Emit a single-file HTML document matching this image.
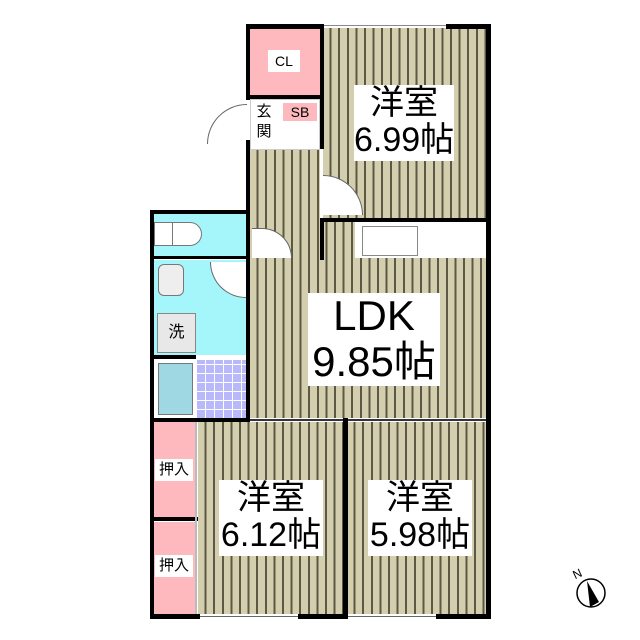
<!DOCTYPE html>
<html><head><meta charset="utf-8"><style>
body{margin:0;width:640px;height:640px;background:#fff;position:relative;overflow:hidden;font-family:"Liberation Sans","Noto Sans CJK JP",sans-serif}
div{position:absolute;box-sizing:border-box}
.st{background:#d3cfae repeating-linear-gradient(90deg,#d3cfae 0,#d3cfae 6.6px,#5c5845 6.6px,#5c5845 8.6px)}
.w{background:#000}
.pk{background:#fdb9bd}
.cy{background:#a5f6fb}
.lb{background:#fff;text-align:center;color:#000;line-height:1.1;white-space:nowrap}
</style></head><body>
<!-- floors -->
<div class="st" style="left:323px;top:28px;width:163px;height:190px"></div>
<div class="st" style="left:250px;top:150px;width:70px;height:110px"></div>
<div class="st" style="left:250px;top:222px;width:236px;height:196px"></div>
<div style="left:355px;top:222px;width:131px;height:36px;background:#fff"></div>
<div style="left:362px;top:226px;width:56px;height:30px;border:1px solid #888;background:#fff"></div>
<div class="st" style="left:198px;top:422px;width:145px;height:192px"></div>
<div class="st" style="left:347px;top:422px;width:139px;height:192px"></div>
<div class="pk" style="left:250px;top:28px;width:70px;height:67px"></div>
<div style="left:250px;top:99px;width:70px;height:51px;background:#fff;border:1px solid #ccc"></div>
<div class="pk" style="left:283px;top:103px;width:34px;height:18px"></div>
<div class="cy" style="left:154px;top:213px;width:92px;height:43px"></div>
<div class="cy" style="left:154px;top:260px;width:92px;height:95px"></div>
<div style="left:154px;top:360px;width:92px;height:58px;background:#fff"></div>
<div style="left:158px;top:363px;width:35px;height:52px;background:#9fd7e3;border:1px solid #777"></div>
<div style="left:197px;top:360px;width:49px;height:58px;background:repeating-linear-gradient(90deg,transparent 0,transparent 8px,#fff 8px,#fff 9px),repeating-linear-gradient(0deg,#b8b8fb 0,#b8b8fb 8px,#fff 8px,#fff 9px)"></div>
<div class="pk" style="left:154px;top:422px;width:41px;height:96px"></div>
<div class="pk" style="left:154px;top:522px;width:41px;height:92px"></div>
<!-- toilet, sink, washer -->
<div style="left:154px;top:222px;width:20px;height:24px;background:#fff;border:1px solid #777"></div>
<div style="left:172px;top:222px;width:30px;height:24px;background:#fff;border:1px solid #777;border-radius:0 14px 14px 0"></div>
<div style="left:158px;top:264px;width:26px;height:32px;background:#eee;border:1px solid #777;border-radius:6px"></div>
<div style="left:157px;top:313px;width:39px;height:40px;background:#e8e8e8;border:1px solid #888;font-size:16px;line-height:38px;text-align:center">洗</div>
<!-- doors -->
<div style="left:210px;top:262px;width:36px;height:36px;border:1px solid #666;border-top:none;border-right:none;border-radius:0 0 0 36px;background:#fff"></div>
<div style="left:252px;top:228px;width:40px;height:30px;border:1px solid #666;border-left:none;border-bottom:none;border-radius:0 40px 0 0;background:#fff"></div>
<div style="left:323px;top:175px;width:40px;height:40px;border:1px solid #666;border-left:none;border-bottom:none;border-radius:0 40px 0 0;background:#fff"></div>
<div style="left:207px;top:104px;width:40px;height:40px;border:1px solid #666;border-right:none;border-bottom:none;border-radius:40px 0 0 0;background:#fff"></div>
<!-- walls -->
<div class="w" style="left:246px;top:24px;width:77px;height:5px"></div>
<div class="w" style="left:446px;top:24px;width:44px;height:5px"></div>
<div style="left:323px;top:25px;width:123px;height:2px;border-top:1px solid #888"></div>
<div class="w" style="left:486px;top:24px;width:5px;height:595px"></div>
<div class="w" style="left:246px;top:24px;width:4px;height:76px"></div>
<div class="w" style="left:246px;top:140px;width:4px;height:74px"></div>
<div class="w" style="left:320px;top:24px;width:4px;height:125px"></div>
<div class="w" style="left:320px;top:218px;width:170px;height:4px"></div>
<div class="w" style="left:320px;top:222px;width:4px;height:38px"></div>
<div class="w" style="left:250px;top:95px;width:74px;height:4px"></div>
<div class="w" style="left:150px;top:210px;width:100px;height:4px"></div>
<div class="w" style="left:150px;top:210px;width:4px;height:409px"></div>
<div class="w" style="left:246px;top:210px;width:4px;height:210px"></div>
<div class="w" style="left:154px;top:256px;width:92px;height:3px"></div>
<div class="w" style="left:154px;top:355px;width:42px;height:4px"></div>
<div class="w" style="left:150px;top:418px;width:100px;height:4px"></div>
<div style="left:250px;top:419px;width:236px;height:2px;background:#333"></div>
<div class="w" style="left:343px;top:418px;width:5px;height:200px"></div>
<div class="w" style="left:154px;top:517px;width:44px;height:4px"></div>
<div style="left:195px;top:422px;width:2px;height:192px;background:#bbb"></div>
<div class="w" style="left:150px;top:614px;width:50px;height:5px"></div>
<div class="w" style="left:298px;top:614px;width:50px;height:5px"></div>
<div class="w" style="left:436px;top:614px;width:54px;height:5px"></div>
<div style="left:200px;top:616px;width:98px;height:1px;background:#666"></div>
<div style="left:348px;top:616px;width:88px;height:1px;background:#666"></div>
<!-- labels -->
<div class="lb" style="left:268px;top:50px;width:32px;height:22px;font-size:14px;line-height:22px">CL</div>
<div class="lb" style="left:253px;top:102px;width:22px;height:44px;font-size:15px;line-height:20px;background:none">玄<br>関</div>
<div class="lb" style="left:286px;top:104px;width:28px;height:16px;font-size:14px;line-height:16px;background:none">SB</div>
<div class="lb" style="left:354px;top:85px;width:100px;height:76px;font-size:34px">洋室<br>6.99帖</div>
<div class="lb" style="left:308px;top:293px;width:132px;height:93px;font-size:42px;line-height:46px">LDK<br>9.85帖</div>
<div class="lb" style="left:219px;top:480px;width:104px;height:76px;font-size:34px">洋室<br>6.12帖</div>
<div class="lb" style="left:368px;top:480px;width:104px;height:76px;font-size:34px">洋室<br>5.98帖</div>
<div class="lb" style="left:155px;top:459px;width:38px;height:22px;font-size:15px;line-height:22px">押入</div>
<div class="lb" style="left:155px;top:555px;width:38px;height:22px;font-size:15px;line-height:22px">押入</div>
<!-- compass -->
<svg style="position:absolute;left:560px;top:560px" width="60" height="60">
<text x="13" y="18" font-size="12" transform="rotate(-25 17 14)" font-family="Liberation Sans">N</text>
<circle cx="31" cy="33" r="14" fill="#fff" stroke="#000" stroke-width="1.5"/>
<polygon points="27,21 39,42 30,47" fill="#000"/>
</svg>
</body></html>
